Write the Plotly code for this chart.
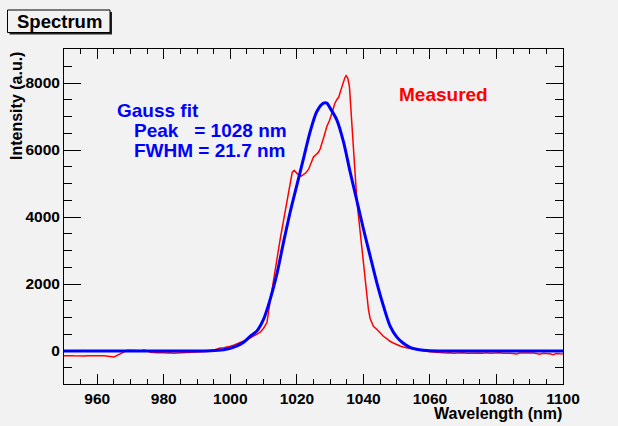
import plotly.graph_objects as go

# ---------------- data ----------------
measured_wavelength = [
    950, 951, 952, 953, 954, 955, 956, 957, 958, 959, 960, 961, 962, 963, 964, 965, 966, 967, 968, 969,
    970, 971, 972, 973, 974, 975, 976, 977, 978, 979, 980, 981, 982, 983, 984, 985, 986, 987, 988, 989,
    990, 991, 992, 993, 994, 995, 996, 997, 998, 999, 1000, 1001, 1002, 1003, 1004, 1005, 1006, 1007,
    1008, 1009, 1010, 1011, 1012, 1013, 1014, 1015, 1016, 1017, 1018, 1018.6, 1019.2, 1019.8, 1020.5,
    1021.3, 1022, 1022.7, 1023.5, 1024.3, 1025, 1025.7, 1026.4, 1027, 1027.6, 1028.2, 1029, 1029.8,
    1030.6, 1031.4, 1032, 1032.6, 1033.2, 1033.8, 1034.4, 1034.8, 1035.3, 1035.8, 1036.3, 1036.8,
    1037.3, 1038, 1038.5, 1039, 1039.5, 1040, 1040.5, 1041, 1041.5, 1042, 1042.5, 1043, 1044, 1045,
    1046, 1047, 1048, 1049, 1050, 1051, 1052, 1053, 1054, 1055, 1056, 1057, 1058, 1059, 1060, 1061,
    1062, 1063, 1064, 1065, 1066, 1067, 1068, 1069, 1070, 1071, 1072, 1073, 1074, 1075, 1076, 1077,
    1078, 1079, 1080, 1081, 1082, 1083, 1084, 1085, 1086, 1087, 1088, 1089, 1090, 1091, 1092, 1093,
    1094, 1095, 1096, 1097, 1098, 1099, 1100,
]
measured_intensity = [
    -140, -150, -140, -145, -150, -145, -150, -140, -145, -135, -140, -145, -140, -150, -155, -180, -130, -80, -20, 20,
    25, 20, 35, 10, 30, 10, -40, -50, -55, -45, -55, -60, -50, -70, -60, -55, -70, -60, -50, -55,
    -50, -45, -20, -25, -10, 20, 60, 90, 100, 110, 140, 170, 210, 240, 290, 340, 390, 440,
    490, 560, 680, 850, 1500, 2150, 2750, 3350, 3900, 4450, 5000, 5330, 5390, 5330, 5250,
    5220, 5270, 5320, 5420, 5620, 5790, 5860, 5920, 6030, 6200, 6420, 6700, 6880,
    7120, 7390, 7500, 7580, 7780, 7990, 8150, 8220, 8150, 7900, 7100, 6200,
    5400, 4550, 4050, 3550, 3150, 2750, 2250, 1700, 1250, 980, 840, 740, 650, 540,
    440, 370, 290, 240, 190, 150, 120, 90, 75, 60, 40, 20, 10, -10, -20, -30,
    -45, -40, -55, -60, -50, -65, -55, -60, -50, -65, -60, -70, -55, -60, -65, -55,
    -70, -60, -65, -55, -70, -60, -65, -75, -90, -60, -55, -70, -65, -60, -75, -95,
    -70, -65, -80, -110, -75, -85, -90,
]

fit_wavelength = [
    950, 960, 970, 980, 990, 994, 998, 1000, 1002, 1004, 1006, 1008, 1010, 1012, 1014, 1016, 1018,
    1020, 1022, 1024, 1026, 1028, 1029, 1030, 1032, 1034, 1036, 1038, 1040, 1042, 1044, 1046, 1048,
    1050, 1052, 1054, 1056, 1058, 1060, 1064, 1070, 1080, 1090, 1100,
]
fit_intensity = [
    0, 0, 0, 0, 0, 10, 40, 80, 150, 260, 440, 600, 950, 1550, 2300, 3250, 4150,
    4950, 5750, 6550, 7150, 7400, 7400, 7250, 6900, 6250, 5350, 4500, 3650, 2850, 2050, 1350, 750,
    420, 230, 110, 50, 20, 5, 0, 0, 0, 0, 0,
]

x_tick_values = [960, 980, 1000, 1020, 1040, 1060, 1080, 1100]
y_tick_values = [0, 2000, 4000, 6000, 8000]

title_text = "Spectrum"
x_title = "Wavelength (nm)"
y_title = "Intensity (a.u.)"
fit_lines = ["Gauss fit", "Peak\u00a0\u00a0\u00a0= 1028 nm", "FWHM = 21.7 nm"]
measured_label = "Measured"

# ---------------- figure ----------------
BG = "#f2f2f2"
FONT = "Liberation Sans, Arial, sans-serif"
L, R, T, B = 64, 55, 49, 42
W, H = 618, 426
PW, PH = W - L - R, H - T - B


def px(xp):
    return (xp - L) / PW


def py(yp):
    return (H - B - yp) / PH


fig = go.Figure()
fig.add_trace(go.Scatter(x=measured_wavelength, y=measured_intensity, mode="lines",
                         line=dict(color="#ff0000", width=1.5), showlegend=False))
fig.add_trace(go.Scatter(x=fit_wavelength, y=fit_intensity, mode="lines",
                         line=dict(color="#0000ff", width=3, shape="spline", smoothing=0.8),
                         showlegend=False))

axis_common = dict(showline=True, linecolor="black", linewidth=1, mirror="ticks",
                   ticks="inside", tickcolor="black", tickwidth=1, showgrid=False, zeroline=False,
                   tickfont=dict(family=FONT, size=15.5, color="black", weight="bold"))

fig.update_xaxes(range=[950, 1100], tickvals=x_tick_values, ticklen=10,
                 minor=dict(ticks="inside", dtick=5, tick0=950, ticklen=5, tickcolor="black"),
                 **axis_common)
fig.update_yaxes(range=[-985, 9015], tickvals=y_tick_values, ticklen=17,
                 minor=dict(ticks="inside", dtick=500, tick0=0, ticklen=8, tickcolor="black"),
                 **axis_common)

annots = []
bold = lambda s, c="black": dict(family=FONT, size=s, color=c, weight="bold")
annots.append(dict(x=px(116), y=py(110), text=fit_lines[0], xanchor="left", yanchor="middle",
                   font=bold(19, "#0000ff")))
annots.append(dict(x=px(133), y=py(130), text=fit_lines[1], xanchor="left", yanchor="middle",
                   font=bold(19, "#0000ff")))
annots.append(dict(x=px(133), y=py(150), text=fit_lines[2], xanchor="left", yanchor="middle",
                   font=bold(19, "#0000ff")))
annots.append(dict(x=px(398), y=py(94), text=measured_label, xanchor="left", yanchor="middle",
                   font=bold(19, "#ff0000")))
annots.append(dict(x=1.0, y=py(413.5), text=x_title, xanchor="right", yanchor="middle",
                   font=bold(16)))
annots.append(dict(x=px(17), y=py(51), text=y_title, xanchor="center", yanchor="top",
                   textangle=-90, font=bold(16)))
annots.append(dict(x=px(59), y=py(21.5), text=title_text, xanchor="center", yanchor="middle",
                   font=bold(18.5)))
for a in annots:
    a.update(xref="paper", yref="paper", showarrow=False, borderpad=0)

shapes = [
    dict(type="rect", xref="paper", yref="paper", x0=px(9.5), x1=px(112), y0=py(34.5), y1=py(12),
         fillcolor="#222222", line=dict(width=0)),
    dict(type="rect", xref="paper", yref="paper", x0=px(7.5), x1=px(110), y0=py(32.5), y1=py(10),
         fillcolor=BG, line=dict(color="black", width=1)),
]

fig.update_layout(width=W, height=H, margin=dict(l=L, r=R, t=T, b=B),
                  paper_bgcolor=BG, plot_bgcolor=BG, annotations=annots, shapes=shapes,
                  showlegend=False)

fig.write_html("out.html", config={"displayModeBar": False},
               post_script="document.body.style.margin='0';document.body.style.background='%s';" % BG)
